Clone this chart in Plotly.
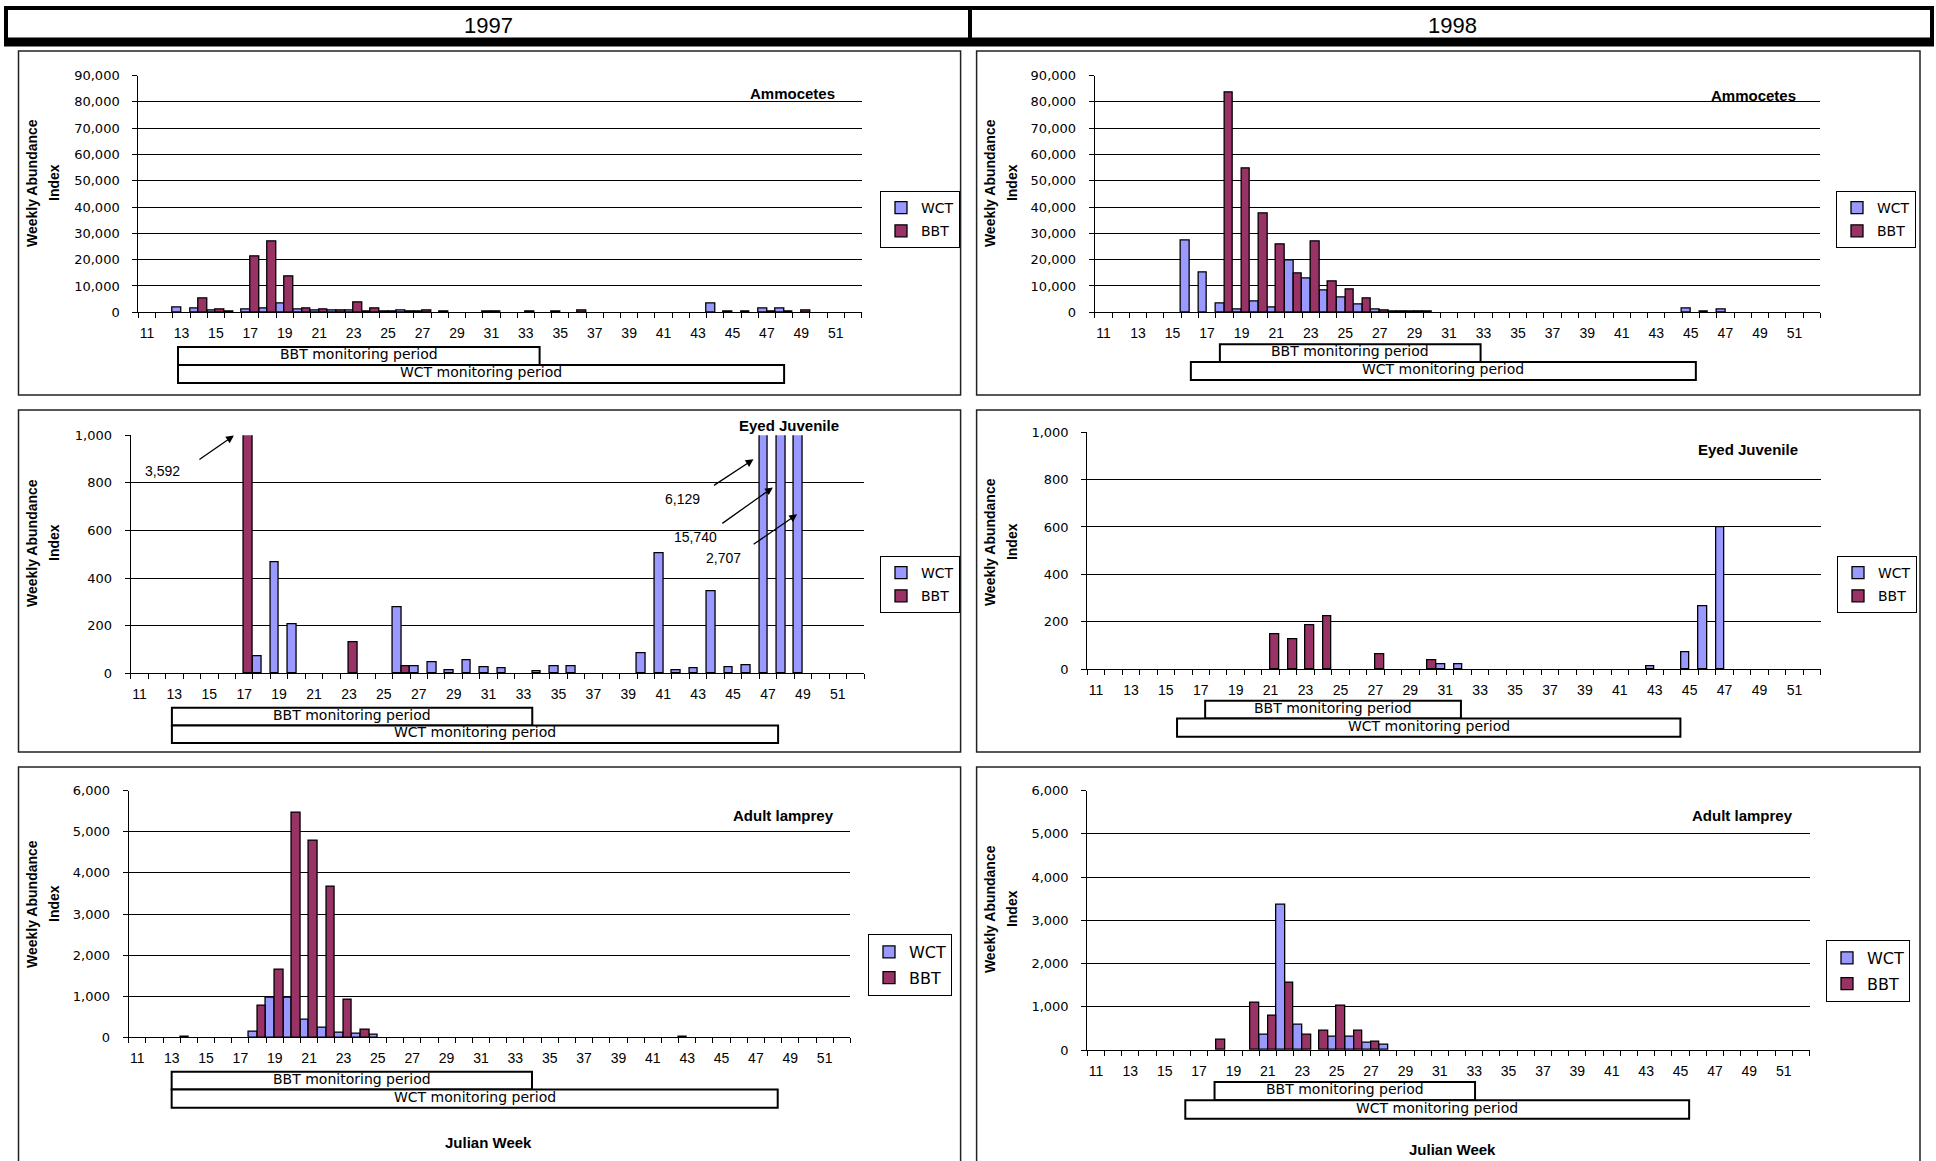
import plotly.graph_objects as go

W, H = 1936, 1161

WEEKS = list(range(11, 53))
TICK_WEEKS = list(range(11, 52, 2))

# ---- data (weeks 11..52) ----
WCT_AMMO_1997 = [0, 0, 1900, 1500, 800, 300, 900, 1400, 3300, 900,
                 500, 600, 700, 300, 200, 500, 400, 0, 0, 0,
                 200, 0, 0, 0, 200, 0, 0, 0, 0, 0,
                 0, 0, 0, 3500, 200, 200, 1500, 1400, 0, 0,
                 0, 0]
BBT_AMMO_1997 = [0, 0, 0, 5300, 1000, 0, 21100, 26800, 13500, 1600,
                 1100, 600, 3900, 1400, 200, 400, 700, 300, 0, 0,
                 200, 0, 300, 0, 0, 500, 0, 0, 0, 0,
                 0, 0, 0, 0, 0, 0, 300, 300, 500, 0,
                 0, 0]
WCT_AMMO_1998 = [0, 0, 0, 0, 0, 27400, 15000, 3300, 1000, 4200,
                 1900, 19600, 13000, 8100, 5700, 2900, 1100, 300, 200, 200,
                 0, 0, 0, 0, 0, 0, 0, 0, 0, 0,
                 0, 0, 0, 0, 1400, 300, 1000, 0, 0, 0,
                 0, 0]
BBT_AMMO_1998 = [0, 0, 0, 0, 0, 0, 0, 83700, 54700, 37700,
                 25800, 14700, 27000, 11800, 8600, 5400, 700, 300, 200, 0,
                 0, 0, 0, 0, 0, 0, 0, 0, 0, 0,
                 0, 0, 0, 0, 0, 0, 0, 0, 0, 0,
                 0, 0]
WCT_EYED_1997 = [0, 0, 0, 0, 0, 0, 0, 70, 465, 206,
                 0, 0, 0, 0, 0, 277, 28, 45, 14, 56,
                 24, 21, 0, 10, 28, 28, 0, 0, 0, 85,
                 503, 11, 20, 343, 25, 35, 6129, 15740, 2707, 0,
                 0, 0]
BBT_EYED_1997 = [0, 0, 0, 0, 0, 0, 3592, 0, 0, 0,
                 0, 0, 130, 0, 0, 28, 0, 0, 0, 0,
                 0, 0, 0, 0, 0, 0, 0, 0, 0, 0,
                 0, 0, 0, 0, 0, 0, 0, 0, 0, 0,
                 0, 0]
WCT_EYED_1998 = [0, 0, 0, 0, 0, 0, 0, 0, 0, 0,
                 0, 0, 0, 0, 0, 0, 0, 0, 0, 0,
                 18, 18, 0, 0, 0, 0, 0, 0, 0, 0,
                 0, 0, 11, 0, 70, 263, 597, 0, 0, 0,
                 0, 0]
BBT_EYED_1998 = [0, 0, 0, 0, 0, 0, 0, 0, 0, 0,
                 148, 124, 185, 221, 0, 0, 62, 0, 0, 37,
                 0, 0, 0, 0, 0, 0, 0, 0, 0, 0,
                 0, 0, 0, 0, 0, 0, 0, 0, 0, 0,
                 0, 0]
WCT_ADULT_1997 = [0, 0, 0, 25, 0, 0, 0, 130, 973, 973,
                  438, 243, 122, 97, 73, 0, 0, 0, 0, 0,
                  0, 0, 0, 0, 0, 0, 0, 0, 0, 0,
                  0, 0, 20, 0, 0, 0, 0, 0, 0, 0,
                  0, 0]
BBT_ADULT_1997 = [0, 0, 0, 0, 0, 0, 0, 762, 1646, 5474,
                  4793, 3674, 908, 187, 0, 0, 0, 0, 0, 0,
                  0, 0, 0, 0, 0, 0, 0, 0, 0, 0,
                  0, 0, 0, 0, 0, 0, 0, 0, 0, 0,
                  0, 0]
WCT_ADULT_1998 = [0, 0, 0, 0, 0, 0, 0, 0, 0, 0,
                  355, 3354, 578, 0, 308, 308, 177, 116, 0, 0,
                  0, 0, 0, 0, 0, 0, 0, 0, 0, 0,
                  0, 0, 0, 0, 0, 0, 0, 0, 0, 0,
                  0, 0]
BBT_ADULT_1998 = [0, 0, 0, 0, 0, 0, 0, 231, 0, 1087,
                  794, 1557, 347, 440, 1018, 455, 200, 0, 0, 0,
                  0, 0, 0, 0, 0, 0, 0, 0, 0, 0,
                  0, 0, 0, 0, 0, 0, 0, 0, 0, 0,
                  0, 0]

# monitoring periods (week-axis extents of the boxes drawn under each chart)
BBT_PERIOD = {1: (12.8, 33.8), 2: (17.74, 32.83), 3: (12.86, 33.5),
              4: (17.25, 31.9), 5: (13.0, 33.97), 6: (17.9, 33.05)}
WCT_PERIOD = {1: (12.8, 48.0), 2: (16.06, 45.29), 3: (12.86, 47.58),
              4: (15.64, 44.47), 5: (13.0, 48.27), 6: (16.2, 45.5)}

# 1997 eyed juvenile off-scale bar labels
OFFSCALE_LABELS = ["3,592", "6,129", "15,740", "2,707"]

YEARS = ["1997", "1998"]
STAGES = ["Ammocetes", "Eyed Juvenile", "Adult lamprey"]

WCT_COLOR = "#9999FF"
BBT_COLOR = "#993366"
ARIAL = "Liberation Sans, Arial, sans-serif"
NARROW = "Liberation Sans Narrow, Liberation Sans, Arial Narrow, sans-serif"
WIDE = "DejaVu Sans, Verdana, sans-serif"


def px(x):
    return x / W


def py(y):
    return 1 - y / H


# panel layout in pixels
PANELS = {
    1: dict(wct=WCT_AMMO_1997, bbt=BBT_AMMO_1997, plot=(138.4, 861.6, 75.5, 312.3),
            ymax=90000, dtick=10000, title=STAGES[0], title_pos=(837, 94),
            legend=(880, 191, 14, 2), box=(347, 365, 383), ytitle_y=183, xtitle=None),
    2: dict(wct=WCT_AMMO_1998, bbt=BBT_AMMO_1998, plot=(1094.8, 1820.4, 75.5, 312.3),
            ymax=90000, dtick=10000, title=STAGES[0], title_pos=(1798, 95),
            legend=(1836, 191, 14, 2), box=(344.3, 362, 380), ytitle_y=183, xtitle=None),
    3: dict(wct=WCT_EYED_1997, bbt=BBT_EYED_1997, plot=(130.7, 864, 435.3, 673.3),
            ymax=1000, dtick=200, title=STAGES[1], title_pos=(841, 425),
            legend=(880, 556, 14, 2), box=(707.7, 725.5, 743), ytitle_y=543, xtitle=None),
    4: dict(wct=WCT_EYED_1998, bbt=BBT_EYED_1998, plot=(1087.3, 1820.6, 432.3, 669),
            ymax=1000, dtick=200, title=STAGES[1], title_pos=(1800, 449),
            legend=(1837, 556, 14, 2), box=(700.7, 718.5, 736.7), ytitle_y=542, xtitle=None),
    5: dict(wct=WCT_ADULT_1997, bbt=BBT_ADULT_1997, plot=(128.7, 850.4, 790.7, 1037.3),
            ymax=6000, dtick=1000, title=STAGES[2], title_pos=(836, 815),
            legend=(868, 934, 16, 2), box=(1071.7, 1089.5, 1107.7), ytitle_y=904,
            xtitle=(489, 1142)),
    6: dict(wct=WCT_ADULT_1998, bbt=BBT_ADULT_1998, plot=(1087.3, 1809.5, 790.7, 1050),
            ymax=6000, dtick=1000, title=STAGES[2], title_pos=(1795, 815),
            legend=(1826, 940, 16, 2), box=(1082, 1100.3, 1118.7), ytitle_y=909,
            xtitle=(1452, 1149)),
}

fig = go.Figure()
layout = dict(width=W, height=H, margin=dict(l=0, r=0, t=0, b=0, pad=0, autoexpand=False),
              paper_bgcolor="white", plot_bgcolor="white", template="none",
              barmode="group", bargap=0, bargroupgap=0,
              font=dict(family=ARIAL, color="black"))
shapes, annotations = [], []


def nz(vals):
    return [v if v else None for v in vals]


for i, p in PANELS.items():
    sfx = "" if i == 1 else str(i)
    xid, yid = "x" + sfx, "y" + sfx
    lid = "legend" + sfx
    left, right, top, bottom = p["plot"]
    for name, vals, col in (("WCT", p["wct"], WCT_COLOR), ("BBT", p["bbt"], BBT_COLOR)):
        fig.add_trace(go.Bar(x=WEEKS, y=nz(vals), name=name, xaxis=xid, yaxis=yid,
                             legend=lid, offsetgroup=name, legendgroup=name + sfx,
                             marker=dict(color=col, line=dict(color="black", width=1.3)),
                             hovertemplate="Week %{x}: %{y:,}<extra>" + name + "</extra>"))
    layout["xaxis" + sfx] = dict(
        domain=[px(left), px(right)], anchor=yid, range=[10.5, 52.5], automargin=False,
        tickmode="array", tickvals=TICK_WEEKS, ticks="", showgrid=False, zeroline=False,
        showline=True, linecolor="black", linewidth=1.2,
        minor=dict(tickmode="linear", tick0=10.5, dtick=1, ticks="outside", ticklen=5,
                   tickcolor="black", tickwidth=1, showgrid=False),
        tickfont=dict(family=ARIAL, size=14, color="black"), ticklabelstandoff=8)
    layout["yaxis" + sfx] = dict(
        domain=[py(bottom), py(top)], anchor=xid, range=[0, p["ymax"]], automargin=False,
        tick0=0, dtick=p["dtick"], tickformat=",", showgrid=True, gridcolor="black",
        gridwidth=1, zeroline=False, showline=True, linecolor="black", linewidth=1.2,
        ticks="outside", ticklen=5, tickcolor="black",
        tickfont=dict(family=WIDE, size=13, color="black"), ticklabelstandoff=10)
    lx, ly, lfs, gap = p["legend"]
    layout[lid] = dict(x=px(lx), y=py(ly), xanchor="left", yanchor="top",
                       bgcolor="white", bordercolor="black", borderwidth=1,
                       font=dict(family=WIDE, size=lfs, color="black"),
                       itemwidth=30, tracegroupgap=gap, traceorder="grouped")
    # panel title
    tx, ty = p["title_pos"]
    annotations.append(dict(text="<b>" + p["title"] + "</b>", x=px(tx), y=py(ty),
                            xref="paper", yref="paper", xanchor="right", yanchor="middle",
                            showarrow=False, font=dict(family=ARIAL, size=15)))
    # y-axis title (two lines)
    base = 18.5 if i % 2 == 1 else 976.6
    for txt, off in (("Weekly Abundance", 13.5), ("Index", 35.5)):
        annotations.append(dict(text="<b>" + txt + "</b>", x=px(base + off), y=py(p["ytitle_y"]),
                                xref="paper", yref="paper", xanchor="center", yanchor="middle",
                                textangle=-90, showarrow=False, font=dict(family=ARIAL, size=14)))
    # monitoring period boxes
    b_top, b_mid, b_bot = p["box"]
    for (x0, x1), y0, y1, label in ((BBT_PERIOD[i], b_top, b_mid, "BBT monitoring period"),
                                    (WCT_PERIOD[i], b_mid, b_bot, "WCT monitoring period")):
        shapes.append(dict(type="rect", xref=xid, yref="paper", x0=x0, x1=x1,
                           y0=py(y1), y1=py(y0), line=dict(color="black", width=2),
                           fillcolor="white", layer="above"))
        annotations.append(dict(text=label, xref=xid, yref="paper", x=(x0 + x1) / 2,
                                y=py((y0 + y1) / 2 - 2), xanchor="center", yanchor="middle",
                                showarrow=False, font=dict(family=WIDE, size=14)))
    if p["xtitle"]:
        jx, jy = p["xtitle"]
        annotations.append(dict(text="<b>Julian Week</b>", x=px(jx), y=py(jy), xref="paper",
                                yref="paper", xanchor="center", yanchor="middle",
                                showarrow=False, font=dict(family=ARIAL, size=15)))

# off-scale arrows and labels on the 1997 eyed-juvenile chart
arrows = [  # head (week, value), tail pixel offset, label position (week, value)
    ((16.41, 999), (-36, 25), (12.3, 850)),
    ((46.17, 899), (-41, 27), (42.09, 731)),
    ((47.28, 781), (-52, 37), (42.86, 573)),
    ((48.67, 668), (-45, 31), (44.45, 486)),
]
for (hx, hy), (ax, ay), _ in arrows:
    annotations.append(dict(text="", x=hx, y=hy, xref="x3", yref="y3", ax=ax, ay=ay,
                            showarrow=True, arrowhead=2, arrowsize=1.2, arrowwidth=1.3,
                            arrowcolor="black"))
for txt, (_, _, (lx, ly)) in zip(OFFSCALE_LABELS, arrows):
    annotations.append(dict(text=txt, x=lx, y=ly, xref="x3", yref="y3", showarrow=False,
                            xanchor="center", yanchor="middle",
                            font=dict(family=ARIAL, size=14)))

# panel frames
for (x0, x1) in ((18.5, 960.6), (976.6, 1920)):
    for (y0, y1) in ((51, 395), (410, 752), (767, 1175)):
        shapes.append(dict(type="rect", xref="paper", yref="paper", x0=px(x0), x1=px(x1),
                           y0=py(y1), y1=py(y0), line=dict(color="#222", width=1.5),
                           layer="below"))

# header
shapes.append(dict(type="rect", xref="paper", yref="paper", x0=px(6), x1=px(1932),
                   y0=py(42), y1=py(8), line=dict(color="black", width=4)))
shapes.append(dict(type="line", xref="paper", yref="paper", x0=px(4), x1=px(1934),
                   y0=py(42), y1=py(42), line=dict(color="black", width=9)))
shapes.append(dict(type="line", xref="paper", yref="paper", x0=px(970), x1=px(970),
                   y0=py(42), y1=py(8), line=dict(color="black", width=4)))
for yr, cx in zip(YEARS, (488, 1452)):
    annotations.append(dict(text=yr, x=px(cx), y=py(25), xref="paper", yref="paper",
                            xanchor="center", yanchor="middle",
                            showarrow=False, font=dict(family=NARROW, size=22)))

layout["shapes"] = shapes
layout["annotations"] = annotations
fig.update_layout(**layout)
fig.write_html("out.html", config={"displayModeBar": False},
               post_script="document.body.style.margin='0px';document.body.style.overflow='hidden';")
